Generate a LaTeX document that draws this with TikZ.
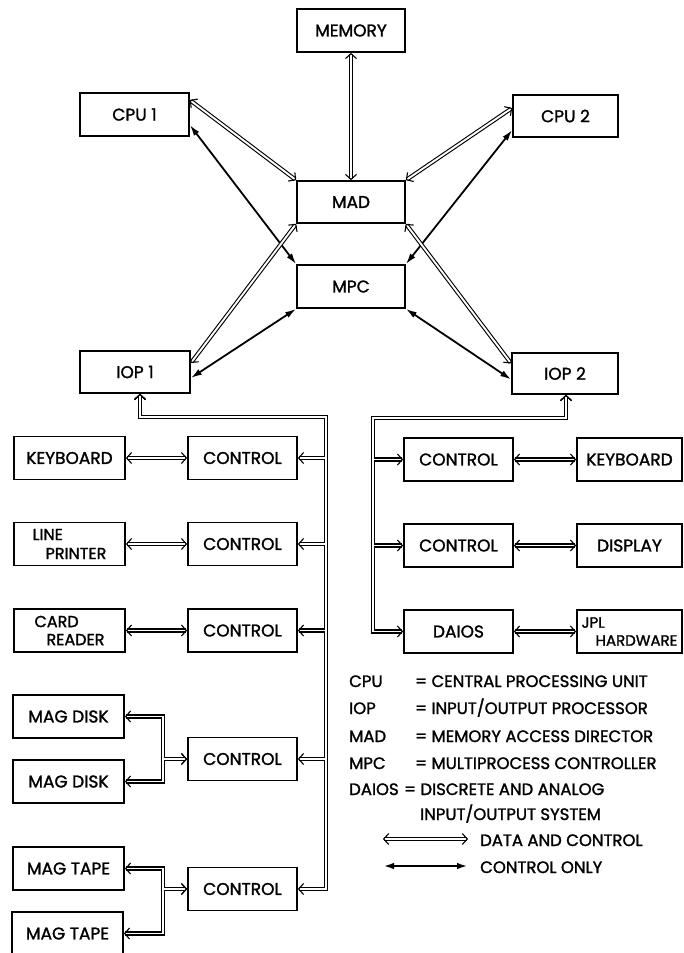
\documentclass[tikz,border=0pt]{standalone}
\usepackage{fontspec}
\setmainfont{Poppins}[RawFeature={embolden=1.5}]
\usetikzlibrary{arrows.meta}
\begin{document}
\begin{tikzpicture}[x=1pt,y=-1pt,
  box/.style={draw, line width=1.7pt, minimum width=108pt, minimum height=43pt, inner sep=0pt,
    font=\fontsize{17}{19}\selectfont, align=center},
  dbl/.style={double, double distance=1.9pt, line width=1.1pt, {Straight Barb[length=5pt,width=11pt]}-{Straight Barb[length=5pt,width=11pt]}},
  sgl/.style={line width=1.8pt, {Latex[length=11pt,width=6.5pt]}-{Latex[length=11pt,width=6.5pt]}},
  fix/.style={white, line width=1.9pt, shorten <=9pt, shorten >=9pt},
  lgd/.style={inner sep=0pt, font=\fontsize{16.5}{18}\selectfont},
]
\useasboundingbox (0,0) rectangle (683,953);
\clip (0,0) rectangle (683,953);

% upper system
\node[box] (mem) at (351,30.5) {MEMORY};
\node[box, minimum width=109pt] (cpu1) at (134.5,114.5) {CPU 1};
\node[box, minimum width=105pt, minimum height=42pt] (cpu2) at (565.5,116) {CPU 2};
\node[box, minimum height=42pt] (mad) at (351,202) {MAD};
\node[box] (mpc) at (351,286.5) {MPC};
\node[box, minimum width=110pt, minimum height=42pt] (iop1) at (135,372) {IOP 1};
\node[box, minimum width=106pt, minimum height=41pt] (iop2) at (565,373.5) {IOP 2};

% left peripherals
\node[box, minimum width=111pt] (kbdL) at (69.5,458) {KEYBOARD};
\node[box, minimum width=111pt, align=left, font=\fontsize{16}{19}\selectfont] (lp) at (69.5,544) {LINE\\\hspace*{13pt}PRINTER};
\node[box, minimum width=111pt, align=left, font=\fontsize{16}{18}\selectfont] (cr) at (69.5,630.5) {CARD\\\hspace*{12pt}READER};
\node[box, minimum width=111pt] (disk1) at (68.5,716.5) {MAG DISK};
\node[box, minimum width=111pt] (disk2) at (68.5,781.5) {MAG DISK};
\node[box, minimum width=111pt] (tape1) at (68.5,868.5) {MAG TAPE};
\node[box, minimum width=111pt] (tape2) at (67.5,933.5) {MAG TAPE};

% left controls
\node[box, minimum width=109pt] (ctrlA) at (242.5,458) {CONTROL};
\node[box, minimum width=109pt] (ctrlB) at (242.5,544) {CONTROL};
\node[box, minimum width=109pt] (ctrlC) at (242.5,630.5) {CONTROL};
\node[box, minimum width=109pt] (ctrlD) at (242.5,759) {CONTROL};
\node[box, minimum width=109pt] (ctrlE) at (242.5,889) {CONTROL};

% right side
\node[box, minimum width=109pt] (ctrlR1) at (458.5,459.5) {CONTROL};
\node[box, minimum width=109pt] (ctrlR2) at (458.5,545.5) {CONTROL};
\node[box, minimum width=109pt] (daios) at (458.5,631.5) {DAIOS};
\node[box, minimum width=105pt] (kbdR) at (629.5,459.5) {KEYBOARD};
\node[box, minimum width=105pt] (disp) at (629.5,545.5) {DISPLAY};
\node[box, minimum width=105pt, align=left, font=\fontsize{15}{18}\selectfont] (jpl) at (629.5,631.5) {JPL\\\hspace*{14pt}HARDWARE};

% central connectors
\draw[dbl] (mem) -- (mad);
\draw[dbl] ([yshift=14.5pt]cpu1.east) -- (mad.north west);
\draw[sgl] ([yshift=-10.5pt]cpu1.east) -- (mpc.north west);
\draw[dbl] ([yshift=8pt]cpu2.west) -- (mad.north east);
\draw[sgl] ([yshift=-14pt]cpu2.west) -- (mpc.north east);
\draw[dbl] ([yshift=9pt]iop1.east) -- (mad.south west);
\draw[sgl] ([yshift=-6pt]iop1.east) -- (mpc.south west);
\draw[dbl] ([yshift=10pt]iop2.west) -- (mad.south east);
\draw[sgl] ([yshift=-6pt]iop2.west) -- (mpc.south east);

% peripheral links
\draw[dbl] (kbdL) -- (ctrlA);
\draw[dbl] (lp) -- (ctrlB);
\draw[dbl] (cr) -- (ctrlC);
\draw[dbl] (ctrlR1) -- (kbdR);
\draw[dbl] (ctrlR2) -- (disp);
\draw[dbl] (daios) -- (jpl);

\coordinate (jD) at (163,759);
\coordinate (jE) at (163,889);
\foreach \p/\j/\c in {disk1/jD/ctrlD, disk2/jD/ctrlD, tape1/jE/ctrlE, tape2/jE/ctrlE}
  \draw[dbl] (\p.east) -| (\j) -- (\c.west);
\foreach \p/\j/\c in {disk1/jD/ctrlD, disk2/jD/ctrlD, tape1/jE/ctrlE, tape2/jE/ctrlE}
  \draw[fix] (\p.east) -| (\j) -- (\c.west);

% buses
\coordinate (lb1) at (140,417);
\coordinate (lb2) at (326,417);
\coordinate (rb1) at (566,418);
\coordinate (rb2) at (373,418);
\foreach \c in {ctrlA,ctrlB,ctrlC,ctrlD,ctrlE}
  \draw[dbl] (iop1.south -| lb1) -- (lb1) -- (lb2) |- (\c.east);
\foreach \c in {ctrlR1,ctrlR2,daios}
  \draw[dbl] (iop2.south -| rb1) -- (rb1) -- (rb2) |- (\c.west);
\foreach \c in {ctrlA,ctrlB,ctrlC,ctrlD,ctrlE}
  \draw[fix] (iop1.south -| lb1) -- (lb1) -- (lb2) |- (\c.east);
\foreach \c in {ctrlR1,ctrlR2,daios}
  \draw[fix] (iop2.south -| rb1) -- (rb1) -- (rb2) |- (\c.west);

% legend
\node[lgd, anchor=base west] (kCPU) at (349,687) {CPU};
\node[lgd, anchor=base west] (dCPU) at (415,687) {= CENTRAL PROCESSING UNIT};
\node[lgd, anchor=base west] (kIOP) at (349,714) {IOP};
\node[lgd, anchor=base west] (dIOP) at (415,714) {= INPUT/OUTPUT PROCESSOR};
\node[lgd, anchor=base west] (kMAD) at (349,742) {MAD};
\node[lgd, anchor=base west] (dMAD) at (415,742) {= MEMORY ACCESS DIRECTOR};
\node[lgd, anchor=base west] (kMPC) at (349,769) {MPC};
\node[lgd, anchor=base west] (dMPC) at (415,769) {= MULTIPROCESS CONTROLLER};
\node[lgd, anchor=base west] (kDAI) at (349,795) {DAIOS};
\node[lgd, anchor=base west] (dDAI) at ([xshift=5pt]kDAI.base east) {= DISCRETE AND ANALOG};
\node[lgd, anchor=base west] (dDAI2) at (420,820) {INPUT/OUTPUT SYSTEM};

\coordinate (la1) at (383,839);
\coordinate (la2) at (468,839);
\coordinate (lc1) at (383,866);
\coordinate (lc2) at (468,866);
\draw[dbl] (la1) -- (la2);
\draw[sgl, line width=2.2pt] (lc1) -- (lc2);
\node[lgd, anchor=base west] (tDC) at (480,846) {DATA AND CONTROL};
\node[lgd, anchor=base west] (tCO) at (480,873) {CONTROL ONLY};
\end{tikzpicture}
\end{document}
